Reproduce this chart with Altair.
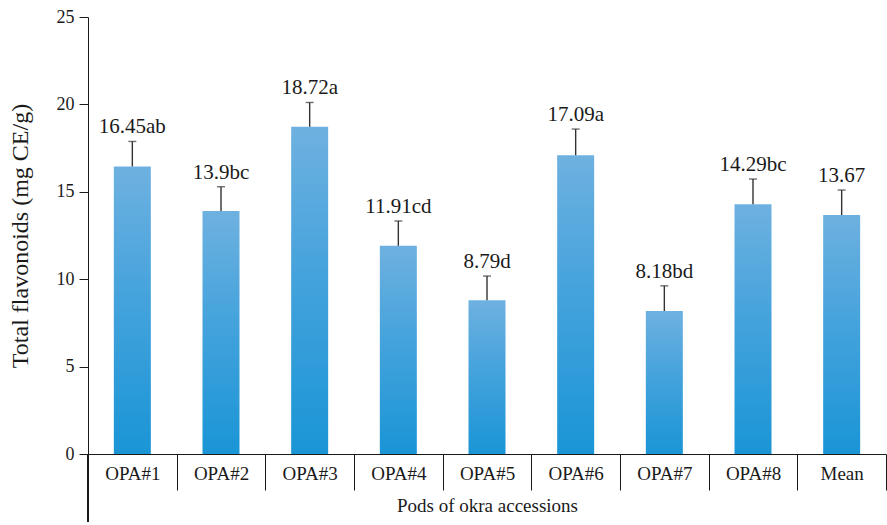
import altair as alt
import pandas as pd

# Total flavonoid content in okra pods, by accession
accessions = ["OPA#1", "OPA#2", "OPA#3", "OPA#4", "OPA#5", "OPA#6", "OPA#7", "OPA#8", "Mean"]
flavonoids = [16.45, 13.9, 18.72, 11.91, 8.79, 17.09, 8.18, 14.29, 13.67]
std_err = [1.43, 1.39, 1.39, 1.42, 1.39, 1.5, 1.44, 1.44, 1.43]
letters = ["ab", "bc", "a", "cd", "d", "a", "bd", "bc", ""]

df = pd.DataFrame({
    "acc": accessions,
    "val": flavonoids,
    "err": std_err,
    "grp": letters,
})
df["upper"] = df["val"] + df["err"]
df["label"] = [f"{v:g}{g}" for v, g in zip(df["val"], df["grp"])]

FONT = "Times New Roman, Liberation Serif, serif"
INK = "#1a1a1a"
W, H = 798, 437

x = alt.X(
    "acc:N",
    sort=accessions,
    scale=alt.Scale(paddingInner=0, paddingOuter=0),
    axis=alt.Axis(
        title="Pods of okra accessions",
        labelAngle=0,
        tickBand="extent",
        tickSize=36,
        tickColor=INK,
        domainColor=INK,
        labelPadding=-17,
        labelBaseline="middle",
        labelFont=FONT,
        labelFontSize=19,
        labelColor=INK,
        titleFont=FONT,
        titleFontSize=19,
        titleFontWeight="normal",
        titleColor=INK,
        titleY=57,
        titleBaseline="alphabetic",
    ),
)

y_scale = alt.Scale(domain=[0, 25], nice=False)

bar_fill = alt.Gradient(
    gradient="linear",
    stops=[
        alt.GradientStop(color="#6eb1e0", offset=0),
        alt.GradientStop(color="#45a3dc", offset=0.45),
        alt.GradientStop(color="#1a95d6", offset=1),
    ],
    x1=1, x2=1, y1=0, y2=1,
)

bars = alt.Chart(df).mark_bar(width=37, color=bar_fill).encode(
    x=x,
    y=alt.Y(
        "val:Q",
        scale=y_scale,
        axis=alt.Axis(
            title="Total flavonoids (mg CE/g)",
            values=[0, 5, 10, 15, 20, 25],
            grid=False,
            tickSize=9,
            tickColor=INK,
            domainColor=INK,
            labelPadding=5,
            labelFont=FONT,
            labelFontSize=18,
            labelColor=INK,
            titleFont=FONT,
            titleFontSize=24,
            titleFontWeight="normal",
            titleColor=INK,
            titleX=-68,
            titleY=H / 2,
            titleBaseline="middle",
        ),
    ),
)

whisker = alt.Chart(df).mark_rule(color="#333333", strokeWidth=1.4).encode(
    x=alt.X("acc:N", sort=accessions),
    y=alt.Y("val:Q", scale=y_scale),
    y2="upper:Q",
)

cap = alt.Chart(df).mark_tick(color="#333333", thickness=1.4, size=8).encode(
    x=alt.X("acc:N", sort=accessions),
    y=alt.Y("upper:Q", scale=y_scale),
)

labels = alt.Chart(df).mark_text(
    font=FONT, fontSize=21, color=INK, baseline="alphabetic", dy=-8
).encode(
    x=alt.X("acc:N", sort=accessions),
    y=alt.Y("upper:Q", scale=y_scale),
    text="label:N",
)

# y axis line continues below the category boxes
axis_tail = alt.Chart(df).mark_rule(color=INK, strokeWidth=1).encode(
    x=alt.value(0),
    y=alt.value(H),
    y2=alt.value(H + 68),
)

chart = (
    alt.layer(bars, whisker, cap, labels, axis_tail)
    .properties(
        width=W,
        height=H,
        autosize=alt.AutoSizeParams(type="none"),
        padding={"left": 88, "top": 17, "right": 1, "bottom": 71},
        background="white",
    )
    .configure_view(stroke=None)
)

chart.save("out.html", embed_options={"renderer": "svg", "actions": False})
